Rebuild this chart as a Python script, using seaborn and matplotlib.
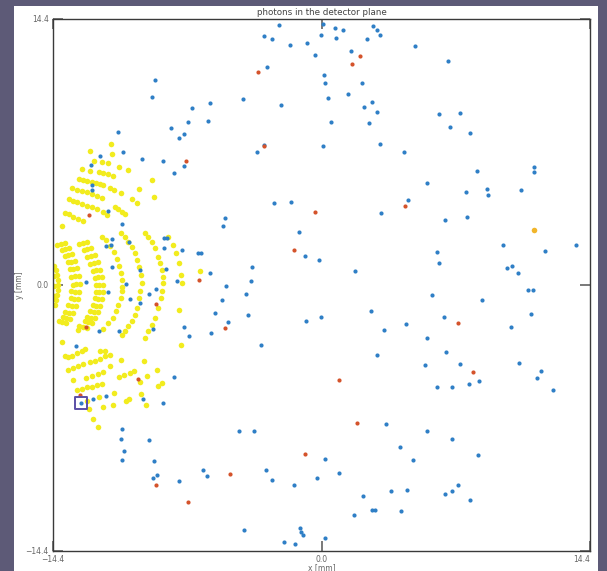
import matplotlib
matplotlib.use("Agg")
import matplotlib.pyplot as plt
from matplotlib.patches import Rectangle
import pandas as pd
import seaborn as sns

# detector half-width in mm
LIM = 14.4
tick_values = [-14.4, 0.0, 14.4]
x_tick_labels = ["\u221214.4", "0.0", "14.4"]
y_tick_labels = ["\u221214.4", "0.0", "14.4"]

# photons that passed through the slits (interference arcs)
arc_photons = [
    (-14.34, 1.03), (-14.24, 0.81), (-14.18, 0.54), (-14.13, 0.27), (-14.13, 0.00), (-14.13, -0.27),
    (-14.18, -0.54), (-14.24, -0.81), (-14.29, -1.08), (-14.34, 0.49), (-14.34, -0.05), (-14.34, -0.60),
    (-13.97, 2.22), (-13.75, 1.95), (-13.59, 1.62), (-13.43, 1.25), (-13.32, 0.87), (-13.22, 0.49),
    (-13.16, 0.05), (-13.22, -0.38), (-13.27, -0.76), (-13.38, -1.14), (-13.54, -1.52), (-13.70, -1.79),
    (-13.91, -2.00),
    (-13.75, 2.27), (-13.54, 2.00), (-13.38, 1.68), (-13.22, 1.30), (-13.11, 0.92), (-13.00, 0.49),
    (-12.95, 0.05), (-13.00, -0.38), (-13.06, -0.76), (-13.16, -1.14), (-13.32, -1.52), (-13.49, -1.84),
    (-13.70, -2.06),
    (-14.16, 2.18), (-13.94, 1.90), (-13.78, 1.57), (-13.62, 1.22), (-13.51, 0.84), (-13.41, 0.46),
    (-13.35, 0.02), (-13.41, -0.35), (-13.46, -0.73), (-13.57, -1.10), (-13.73, -1.48), (-13.89, -1.75),
    (-14.10, -1.95),
    (-12.79, 2.27), (-12.57, 1.95), (-12.36, 1.57), (-12.20, 1.19), (-12.09, 0.81), (-11.98, 0.43),
    (-11.93, 0.00), (-11.93, -0.38), (-11.98, -0.76), (-12.09, -1.14), (-12.20, -1.46), (-12.36, -1.79),
    (-12.52, -2.00), (-12.79, -2.27), (-13.06, -2.44),
    (-12.57, 2.33), (-12.36, 2.00), (-12.15, 1.62), (-11.98, 1.25), (-11.88, 0.81), (-11.77, 0.43),
    (-11.72, 0.00), (-11.72, -0.38), (-11.77, -0.76), (-11.88, -1.14), (-11.98, -1.46), (-12.15, -1.79),
    (-12.31, -2.06), (-12.57, -2.33),
    (-12.98, 2.20), (-12.76, 1.88), (-12.55, 1.52), (-12.39, 1.15), (-12.28, 0.78), (-12.17, 0.40),
    (-12.12, -0.02), (-12.12, -0.36), (-12.17, -0.73), (-12.28, -1.10), (-12.39, -1.42), (-12.55, -1.74),
    (-12.71, -1.95), (-12.98, -2.21),
    (-11.79, 2.61), (-11.56, 2.44), (-11.34, 2.11), (-11.13, 1.79), (-10.97, 1.41), (-10.86, 1.03),
    (-10.75, 0.65), (-10.70, 0.27), (-10.70, -0.11), (-10.71, -0.34), (-10.77, -0.70), (-10.90, -1.07),
    (-11.02, -1.42), (-11.20, -1.79), (-11.43, -2.06), (-11.70, -2.37),
    (-10.77, 2.80), (-10.54, 2.61), (-10.36, 2.34), (-10.18, 2.07), (-10.00, 1.72), (-9.88, 1.35),
    (-9.77, 0.99), (-9.69, 0.54), (-9.64, 0.09), (-9.73, -0.34), (-9.77, -0.70), (-9.88, -1.25),
    (-10.00, -1.61), (-10.18, -1.97), (-10.36, -2.24), (-10.54, -2.51), (-10.71, -2.72),
    (-9.46, 2.83), (-9.29, 2.61), (-9.10, 2.34), (-8.93, 1.99), (-8.75, 1.53), (-8.66, 1.17),
    (-8.57, 0.81), (-8.51, 0.45), (-8.48, 0.09), (-8.57, -0.34), (-8.62, -0.70), (-8.75, -1.25),
    (-8.93, -1.79), (-9.10, -2.15), (-9.29, -2.51), (-9.46, -2.87),
    (-8.21, 2.61), (-7.95, 2.17), (-7.80, 1.72), (-7.62, 1.17), (-7.53, 0.54), (-7.48, 0.12),
    (-7.62, -1.34), (-7.55, -3.26), (-6.51, 0.75),
]

# photons in the upper side bands
upper_band_photons = [
    (-11.27, 7.65), (-11.22, 7.09), (-12.41, 7.27), (-12.21, 6.71), (-11.79, 6.64), (-11.46, 6.59),
    (-12.84, 6.28), (-12.41, 6.19), (-11.95, 6.12), (-11.70, 6.08), (-11.43, 6.01), (-11.16, 5.89),
    (-10.86, 6.40), (-10.38, 6.23), (-9.10, 5.67), (-8.98, 4.76), (-9.77, 5.20), (-10.18, 4.64),
    (-9.88, 4.44),
    (-12.99, 5.74), (-12.77, 5.68), (-12.56, 5.63), (-12.32, 5.56), (-12.09, 5.51), (-11.88, 5.47),
    (-11.70, 5.40), (-11.34, 5.24), (-11.11, 5.14), (-10.77, 5.00),
    (-13.39, 5.24), (-13.13, 5.14), (-12.86, 5.11), (-12.59, 5.05), (-12.32, 4.91), (-12.05, 4.82),
    (-11.79, 4.71),
    (-13.52, 4.66), (-13.31, 4.56), (-13.09, 4.48), (-12.86, 4.39), (-12.59, 4.28), (-12.32, 4.21),
    (-12.05, 4.11), (-11.73, 3.97), (-11.52, 3.79),
    (-11.07, 4.24), (-10.90, 4.10), (-10.71, 3.95), (-10.54, 3.83),
    (-13.77, 3.91), (-13.54, 3.83), (-13.31, 3.70), (-13.06, 3.59), (-12.80, 3.46), (-13.90, 3.19),
]

# photons in the lower side bands
lower_band_photons = [
    (-13.93, -3.10), (-13.75, -3.86), (-13.58, -3.91), (-13.39, -3.86), (-13.13, -3.68), (-12.86, -3.59),
    (-12.68, -3.46), (-11.88, -3.59), (-11.61, -3.59),
    (-13.58, -4.59), (-13.31, -4.49), (-13.04, -4.40), (-12.77, -4.28), (-12.41, -4.17), (-12.15, -4.10),
    (-11.88, -4.01), (-11.61, -3.86), (-11.34, -3.77),
    (-13.31, -5.13), (-12.63, -5.03), (-12.32, -4.94), (-11.97, -4.82), (-11.70, -4.73), (-11.34, -4.40),
    (-13.13, -5.67), (-12.86, -5.61), (-12.59, -5.54), (-12.32, -5.51), (-12.05, -5.43), (-11.79, -5.36),
    (-10.84, -5.00), (-10.59, -4.89), (-10.27, -4.76), (-10.05, -4.64), (-9.73, -5.27), (-9.37, -4.94),
    (-8.80, -4.59), (-9.52, -4.10), (-10.75, -4.04),
    (-8.75, -5.45), (-8.57, -5.31),
    (-12.56, -6.26), (-11.91, -6.06), (-11.13, -5.85), (-10.50, -6.26), (-10.32, -6.17), (-11.16, -6.48),
    (-11.73, -6.61), (-9.69, -5.90), (-9.41, -6.51),
    (-12.45, -6.71), (-12.27, -7.24), (-12.00, -7.67),
]

# scattered background photons
scattered_photons = [
    (-8.93, 11.10), (-9.09, 10.18), (-6.93, 9.60), (-7.14, 8.82), (-8.07, 8.52), (-7.36, 8.18),
    (-7.66, 7.97), (-10.91, 8.27), (-10.64, 7.22), (-11.89, 7.00), (-9.62, 6.84), (-8.51, 6.70),
    (-7.39, 6.44), (-7.89, 6.05), (-12.36, 6.48), (-12.29, 5.43), (-12.32, 5.13), (-11.45, 4.01),
    (-10.71, 3.32), (-8.45, 2.57), (-8.31, 2.52), (-11.25, 2.47), (-11.57, 2.11), (-11.30, 2.18),
    (-10.34, 2.34), (-8.45, 1.99), (-7.48, 1.88), (-6.64, 1.72), (-6.48, 1.72), (-11.22, 0.97),
    (-9.73, 0.81), (-8.35, 0.87), (-7.76, 0.22), (-12.63, 0.16), (-10.47, 0.07), (-8.86, -0.20),
    (-11.45, -0.40), (-10.27, -0.77), (-9.27, -0.50), (-9.75, -0.96), (-11.95, -2.51), (-10.86, -2.51),
    (-9.05, -2.40), (-7.36, -2.29), (-7.12, -2.78), (-13.18, -3.29), (-7.91, -5.00), (-12.91, -6.39),
    (-12.27, -6.19), (-11.56, -5.99), (-9.57, -6.16), (-8.48, -6.40), (-10.71, -7.80), (-10.75, -8.34),
    (-9.25, -8.38), (-10.59, -8.97), (-10.68, -9.49), (-8.98, -9.54), (-9.02, -10.43), (-8.84, -10.27),
    (-7.62, -10.61),
    (-2.29, 14.09), (-3.10, 13.47), (-2.65, 13.34), (-0.05, 13.55), (-1.67, 12.99), (-0.79, 13.12),
    (-0.35, 12.47), (-2.94, 11.78), (-5.96, 9.86), (-4.23, 10.09), (-2.19, 9.77), (-6.07, 8.86),
    (-3.08, 7.57), (-3.44, 7.18), (-2.55, 4.45), (-1.65, 4.49), (-5.16, 3.65), (-5.27, 3.18),
    (-1.19, 2.85), (-0.88, 1.55), (-0.15, 1.36), (-5.96, 0.63), (-3.71, 0.97), (-3.80, 0.21),
    (-5.14, -0.05), (-4.05, -0.48), (-5.32, -0.82), (-5.73, -1.52), (-5.03, -2.02), (-5.91, -2.60),
    (-3.94, -1.61), (-0.82, -1.95), (-3.23, -3.23), (-4.44, -7.90), (-3.64, -7.90), (-6.34, -10.03),
    (-6.14, -10.32), (-2.98, -10.03), (-2.65, -10.55), (-1.49, -10.84), (-0.24, -10.47), (-4.14, -13.24),
    (-1.17, -13.17), (-1.08, -13.37), (-0.98, -13.52), (-1.99, -13.89), (-1.40, -14.02),
    (0.06, 14.13), (0.74, 13.93), (1.17, 13.79), (2.78, 14.04), (2.99, 13.82), (3.14, 13.52),
    (0.76, 13.36), (2.44, 13.30), (5.00, 12.92), (1.58, 12.67), (6.80, 12.14), (0.15, 11.39),
    (0.17, 10.94), (2.17, 10.94), (0.35, 10.11), (1.44, 10.36), (2.72, 9.92), (2.29, 9.65),
    (2.96, 9.37), (0.53, 8.82), (2.56, 8.75), (6.32, 9.24), (7.41, 9.30), (6.89, 8.55),
    (7.96, 8.21), (0.10, 7.51), (3.14, 7.65), (4.42, 7.20), (11.41, 6.39), (11.41, 6.13),
    (8.32, 6.17), (5.67, 5.51), (7.75, 5.02), (8.87, 5.18), (8.91, 4.89), (10.71, 5.13),
    (4.62, 4.60), (3.19, 3.88), (6.64, 3.50), (7.80, 3.67), (9.75, 2.18), (12.00, 1.84),
    (13.66, 2.18), (6.18, 1.80), (6.32, 1.17), (9.96, 0.94), (10.20, 1.04), (10.54, 0.67),
    (1.78, 0.77),
    (11.09, -0.27), (11.32, -0.27), (5.91, -0.54), (8.59, -0.81), (-0.03, -1.72), (2.64, -1.42),
    (11.22, -1.55), (6.57, -1.75), (4.53, -2.13), (3.35, -2.44), (10.15, -2.29), (5.67, -2.89),
    (6.68, -3.64), (2.96, -3.77), (5.57, -4.35), (7.43, -4.26), (10.57, -4.24), (11.77, -4.66),
    (11.54, -5.04), (8.46, -5.20), (7.93, -5.34), (6.21, -5.51), (7.01, -5.52), (12.40, -5.67),
    (3.46, -7.53), (5.67, -7.90), (6.98, -8.35), (4.21, -8.75), (8.39, -9.20), (0.19, -9.42),
    (4.91, -9.46), (0.94, -10.16), (7.30, -10.84), (3.73, -11.14), (4.58, -11.10), (6.64, -11.33),
    (7.01, -11.14), (2.23, -11.41), (7.98, -11.66), (2.71, -12.17), (2.88, -12.17), (4.25, -12.25),
    (1.73, -12.47), (0.19, -13.72),
]

# absorbed / flagged photons
flagged_photons = [
    (2.08, 12.38), (1.62, 11.95), (4.49, 4.28), (-3.39, 11.52), (-3.07, 7.50), (-0.35, 3.93),
    (-1.49, 1.92), (-6.55, 0.28), (-5.19, -2.31), (-0.88, -9.15), (-4.92, -10.21), (-7.25, 6.71),
    (-12.48, 3.81), (-8.89, -1.01), (-12.63, -2.29), (-9.84, -5.07), (-12.95, -5.94), (-8.89, -10.83),
    (-7.16, -11.75), (7.34, -2.04), (8.11, -4.69), (0.94, -5.14), (1.90, -7.47),
]

# single photon with a different energy tag
tagged_photons = [(11.38, 2.99)]

# currently selected photon
selected_photon = (-12.91, -6.39)

BG = "#5d5a77"
YELLOW = "#f2ec1e"
BLUE = "#2f7fc6"
RED = "#d4532b"
GOLD = "#f1b52a"
INK = "#444444"


def frame(points, kind):
    return pd.DataFrame({"x": [p[0] for p in points],
                         "y": [p[1] for p in points],
                         "kind": kind})


yellow_df = pd.concat([frame(arc_photons, "arc"),
                       frame(upper_band_photons, "upper"),
                       frame(lower_band_photons, "lower")], ignore_index=True)
blue_df = frame(scattered_photons, "scattered")
red_df = frame(flagged_photons, "flagged")
gold_df = frame(tagged_photons, "tagged")

sns.set_theme(style="white")
plt.rcParams["font.family"] = ["DejaVu Sans"]

W, H = 607, 571
fig = plt.figure(figsize=(W / 100, H / 100), dpi=100, facecolor=BG)
# white sheet behind the plot
fig.patches.append(Rectangle((14 / W, 0), 584 / W, 565 / H, transform=fig.transFigure,
                             facecolor="white", edgecolor="none", zorder=-10))
ax = fig.add_axes([53 / W, 20 / H, 537 / W, 532 / H])
ax.set_zorder(1)
ax.set_facecolor("white")

sns.scatterplot(data=yellow_df, x="x", y="y", color=YELLOW, s=16, linewidth=0,
                legend=False, ax=ax, zorder=2)
sns.scatterplot(data=gold_df, x="x", y="y", color=GOLD, s=16, linewidth=0,
                legend=False, ax=ax, zorder=3)
sns.scatterplot(data=blue_df, x="x", y="y", color=BLUE, s=9, linewidth=0,
                legend=False, ax=ax, zorder=3)
sns.scatterplot(data=red_df, x="x", y="y", color=RED, s=9, linewidth=0,
                legend=False, ax=ax, zorder=4)
ax.scatter([selected_photon[0]], [selected_photon[1]], marker="s", s=70,
           facecolors="none", edgecolors="#5b4fa6", linewidths=1.4, zorder=5)

ax.set_xlim(-LIM, LIM)
ax.set_ylim(-LIM, LIM)
ax.set_xticks(tick_values)
ax.set_yticks(tick_values)
ax.set_xticklabels(x_tick_labels)
ax.set_yticklabels(y_tick_labels)
ax.tick_params(axis="both", which="major", direction="in", length=7.5, width=1.1,
               color="#555555", labelsize=5.5, labelcolor="#666666",
               top=True, right=True, bottom=True, left=True)
ax.tick_params(axis="x", pad=3)
ax.tick_params(axis="y", pad=3)
xlabels = ax.get_xticklabels()
xlabels[-1].set_horizontalalignment("right")

for side in ax.spines.values():
    side.set_color("#3a3a3a")
    side.set_linewidth(1.0)

ax.set_title("photons in the detector plane", fontsize=6.3, color=INK, pad=3)
ax.set_xlabel("x [mm]", fontsize=5.5, color="#666666", labelpad=-1)
ax.set_ylabel("y [mm]", fontsize=5.5, color="#666666", labelpad=1)

fig.savefig("out.png", dpi=100, facecolor=BG)
